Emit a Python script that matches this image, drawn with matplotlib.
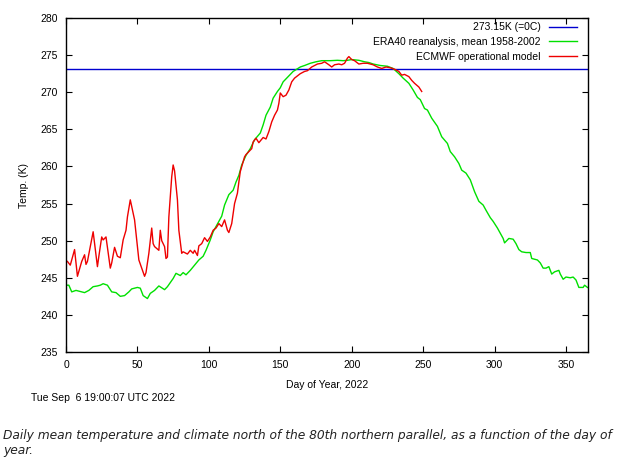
import matplotlib
matplotlib.use('Agg')
import matplotlib.pyplot as plt

# ERA40 climatology, mean 1958-2002
era_day = [1, 2, 4, 7, 11, 13, 16, 19, 22, 24, 26, 29, 32, 35, 38, 41, 44, 46, 50, 52,
           54, 57, 59, 62, 65, 69, 71, 75, 77, 80, 82, 84, 87, 90, 93, 96, 98, 101, 103, 107,
           109, 111, 114, 117, 119, 121, 123, 126, 129, 132, 136, 138, 140, 143, 145, 148, 150, 152, 156, 159,
           164, 167, 171, 175, 179, 185, 190, 194, 197, 200, 205, 209, 212, 215, 220, 225, 229, 233, 236, 240,
           243, 246, 248, 250, 251, 253, 256, 260, 263, 267, 269, 272, 275, 277, 280, 283, 286, 289, 292, 294,
           297, 299, 302, 304, 306, 307, 310, 313, 315, 317, 319, 322, 325, 326, 330, 332, 334, 336, 338, 340,
           342, 345, 346, 348, 350, 353, 355, 357, 359, 362, 363, 365]
era_temp = [244.0, 244.0, 243.1, 243.3, 243.1, 243.0, 243.3, 243.8, 243.9, 244.0, 244.2, 244.0, 243.1, 243.0, 242.5, 242.6, 243.1, 243.5, 243.7, 243.6,
            242.6, 242.2, 242.9, 243.3, 243.9, 243.4, 243.8, 244.9, 245.6, 245.3, 245.7, 245.4, 246.0, 246.7, 247.4, 247.9, 248.7, 250.1, 251.2, 252.6,
            253.3, 254.8, 256.2, 256.8, 257.9, 258.8, 260.2, 261.5, 262.4, 263.6, 264.5, 265.6, 266.9, 268.0, 269.2, 270.1, 270.6, 271.4, 272.2, 272.8,
            273.4, 273.6, 273.9, 274.1, 274.25, 274.25, 274.3, 274.25, 274.3, 274.4, 274.3, 274.1, 274.0, 273.8, 273.6, 273.5, 273.2, 272.5, 271.9, 271.2,
            270.3, 269.3, 269.0, 268.2, 267.8, 267.6, 266.5, 265.4, 264.0, 263.1, 262.0, 261.3, 260.4, 259.5, 259.1, 258.2, 256.6, 255.3, 254.8, 254.1,
            253.1, 252.6, 251.7, 251.0, 250.3, 249.7, 250.3, 250.2, 249.6, 248.8, 248.5, 248.4, 248.4, 247.6, 247.4, 247.0, 246.3, 246.3, 246.5, 245.5,
            245.8, 246.0, 245.5, 244.8, 245.1, 245.0, 245.1, 244.7, 243.7, 243.7, 244.0, 243.7]

# ECMWF operational model, 2022
op_day = [1, 3, 6, 8, 11, 13, 14, 15, 17, 19, 22, 23, 25, 26, 28, 31, 32, 34, 36, 38,
          40, 42, 43, 45, 46, 48, 51, 55, 56, 58, 60, 61, 62, 65, 66, 67, 69, 70, 71, 72,
          74, 75, 76, 78, 79, 81, 82, 85, 87, 89, 90, 92, 93, 95, 97, 99, 101, 103, 105, 107,
          109, 111, 113, 114, 116, 118, 120, 121, 122, 125, 126, 128, 130, 131, 133, 135, 138, 140, 142, 144,
          146, 148, 149, 150, 152, 154, 156, 158, 160, 164, 167, 169, 172, 176, 179, 181, 184, 186, 188, 191,
          193, 195, 197, 198, 200, 202, 205, 208, 211, 215, 218, 221, 224, 227, 230, 233, 235, 237, 240, 242,
          244, 247, 249]
op_temp = [247.2, 246.7, 248.8, 245.2, 247.2, 248.1, 246.8, 247.2, 249.2, 251.2, 246.5, 247.9, 250.5, 250.1, 250.5, 246.3, 247.0, 249.1, 247.9, 247.7,
           250.1, 251.4, 253.2, 255.5, 254.6, 252.8, 247.4, 245.2, 245.7, 248.3, 251.7, 249.6, 249.2, 248.7, 251.4, 250.0, 249.2, 247.6, 247.8, 253.2,
           258.6, 260.2, 259.4, 255.5, 251.4, 248.3, 248.5, 248.2, 248.7, 248.3, 248.7, 248.0, 249.3, 249.6, 250.4, 249.9, 250.5, 251.4, 251.7, 252.3,
           251.9, 252.8, 251.4, 251.1, 252.3, 255.0, 256.4, 257.9, 259.3, 261.3, 261.6, 262.0, 262.4, 263.3, 263.8, 263.2, 263.9, 263.7, 264.7, 266.0,
           266.9, 267.6, 268.5, 269.9, 269.4, 269.6, 270.3, 271.4, 271.9, 272.5, 272.8, 272.9, 273.4, 273.8, 273.9, 274.1, 273.7, 273.4, 273.7, 273.8,
           273.7, 273.9, 274.6, 274.8, 274.4, 274.25, 273.8, 273.9, 273.9, 273.7, 273.4, 273.2, 273.4, 273.3, 273.1, 272.8, 272.3, 272.4, 272.1, 271.6,
           271.2, 270.7, 270.1]

freezing = 273.15

plt.rcParams['font.family'] = ['Liberation Sans', 'DejaVu Sans']
fig = plt.figure(figsize=(6.27, 4.70), dpi=100)
ax = fig.add_axes([66 / 627, 1 - 352 / 470, 522 / 627, 334 / 470])

ax.axhline(freezing, color='#0000d0', lw=1, label='273.15K (=0C)')
ax.plot(era_day, era_temp, color='#00e000', lw=1, label='ERA40 reanalysis, mean 1958-2002')
ax.plot(op_day, op_temp, color='#ee0000', lw=1, label='ECMWF operational model')

ax.set_xlim(0, 365.4)
ax.set_ylim(235, 280)
ax.set_xticks(range(0, 351, 50))
ax.set_yticks(range(235, 281, 5))
ax.tick_params(direction='in', top=True, right=True, length=4, labelsize=7.5, pad=6)
for s in ax.spines.values():
    s.set_linewidth(1)

ax.set_xlabel('Day of Year, 2022', fontsize=7.5, labelpad=7)
ax.set_ylabel('Temp. (K)', fontsize=7.5, labelpad=8)

leg = ax.legend(loc='upper right', bbox_to_anchor=(0.987, 1.0), frameon=False,
                markerfirst=False, fontsize=7.5, handlelength=2.7, handletextpad=0.8,
                labelspacing=0.45, borderaxespad=0)
for t in leg.get_texts():
    t.set_ha('right')

fig.text(31 / 627, 1 - 398 / 470, 'Tue Sep  6 19:00:07 UTC 2022', fontsize=7.5, va='center')
fig.text(3 / 627, 1 - 443 / 470,
         'Daily mean temperature and climate north of the 80th northern parallel, as a function of the day of\nyear.',
         fontsize=8.8, style='italic', color='#222222', family='DejaVu Sans', va='center', linespacing=1.25)

fig.savefig('out.png', dpi=100)
